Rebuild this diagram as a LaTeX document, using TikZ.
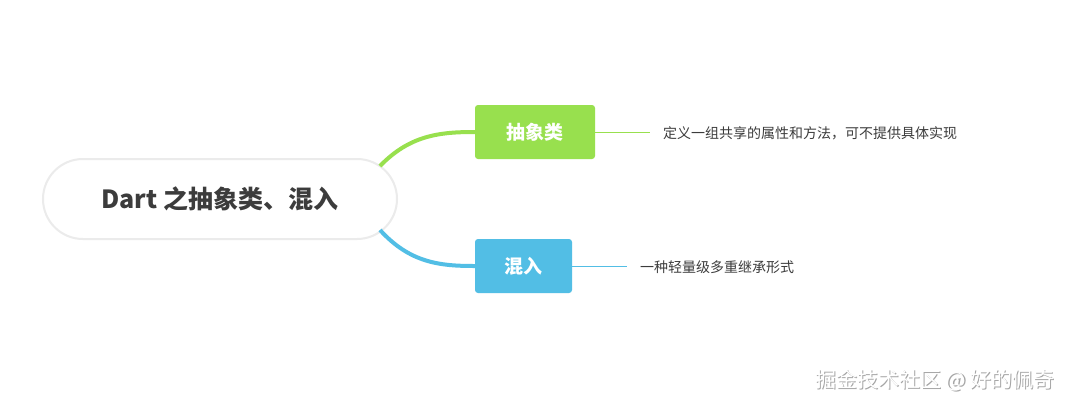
\documentclass[tikz,border=0pt]{standalone}
\usepackage{fontspec}
\newfontfamily\cjk{Noto Sans CJK SC}
\definecolor{gr}{HTML}{98E04E}
\definecolor{bl}{HTML}{52BEE5}
\definecolor{tx}{HTML}{3C3C3C}
\tikzset{
 topic/.style={rounded corners=3pt,minimum height=54pt,text=white,font=\cjk\bfseries\fontsize{19}{22}\selectfont,inner xsep=0pt},
 note/.style={anchor=west,text=tx,font=\cjk\fontsize{14}{16}\selectfont,inner sep=0pt}
}
\begin{document}
\begin{tikzpicture}[x=1pt,y=-1pt]
\useasboundingbox[fill=white] (0,0) rectangle (1072,408);
\node[draw=black!8,line width=2pt,fill=white,rounded corners=40pt,minimum width=354pt,minimum height=80pt,text=tx,font=\cjk\bfseries\fontsize{25}{30}\selectfont] (root) at (220,199) {Dart 之抽象类、混入};
\node[topic,fill=gr,minimum width=120pt] (a) at (535,132) {抽象类};
\node[topic,fill=bl,minimum width=97pt] (b) at (523.5,266) {混入};
\coordinate (ra) at (380,166);
\coordinate (rb) at (380,230);
\draw[gr,line width=4pt] (ra) .. controls (410,135) and (440,132) .. (a.west);
\draw[bl,line width=4pt] (rb) .. controls (410,263) and (440,266) .. (b.west);
\coordinate (ae) at (650,132);
\coordinate (be) at (627,266);
\draw[gr,line width=1pt] (a.east) -- (ae);
\draw[bl,line width=1pt] (b.east) -- (be);
\node[note] (na) at (663,133) {定义一组共享的属性和方法，可不提供具体实现};
\node[note] (nb) at (640,267) {一种轻量级多重继承形式};
\node[anchor=east,font=\cjk\fontsize{21}{24}\selectfont,text=black!35] (wm0) at (1059.5,381.5) {掘金技术社区 @ 好的佩奇};
\node[anchor=east,font=\cjk\fontsize{21}{24}\selectfont,text=white] (wm) at (1058,380) {掘金技术社区 @ 好的佩奇};
\end{tikzpicture}
\end{document}
